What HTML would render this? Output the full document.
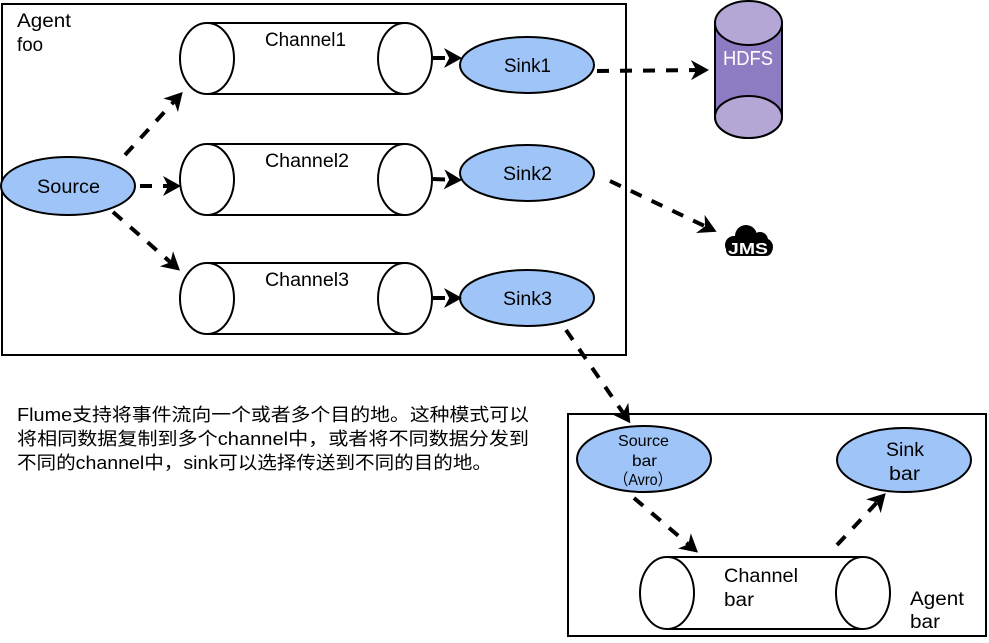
<!DOCTYPE html>
<html><head><meta charset="utf-8"><style>
body{margin:0;background:#fff;width:989px;height:638px;overflow:hidden}
svg text{font-family:"Liberation Sans","Noto Sans CJK SC",sans-serif}
</style></head><body>
<svg width="989" height="638" viewBox="0 0 989 638" xmlns="http://www.w3.org/2000/svg">
<defs>
<marker id="ah" markerWidth="5" markerHeight="5" refX="3.5" refY="2.5" orient="auto" markerUnits="strokeWidth">
<path d="M0,0 L4.5,2.5 L0,5 L1.3,2.5 Z" fill="#000"/>
</marker>
</defs>
<g fill="none" stroke="#000" stroke-width="2">
<rect x="2" y="4" width="624" height="351"/>
<rect x="568" y="414" width="418" height="222"/>
</g>
<g font-size="19">
<text x="17" y="27" textLength="54" lengthAdjust="spacingAndGlyphs">Agent</text>
<text x="17" y="51" textLength="26" lengthAdjust="spacingAndGlyphs">foo</text>
</g>
<g stroke="#000" stroke-width="2" fill="#fff">
<g><path d="M207,23 L405,23 M207,94 L405,94"/><ellipse cx="207" cy="58.5" rx="27" ry="35.5"/><ellipse cx="405" cy="58.5" rx="27" ry="35.5"/></g>
<g><path d="M207,144 L405,144 M207,215 L405,215"/><ellipse cx="207" cy="179.5" rx="27" ry="35.5"/><ellipse cx="405" cy="179.5" rx="27" ry="35.5"/></g>
<g><path d="M207,263 L405,263 M207,334 L405,334"/><ellipse cx="207" cy="298.5" rx="27" ry="35.5"/><ellipse cx="405" cy="298.5" rx="27" ry="35.5"/></g>
<g><path d="M667,557 L863,557 M667,629 L863,629"/><ellipse cx="667" cy="593" rx="27" ry="36"/><ellipse cx="863" cy="593" rx="27" ry="36"/></g>
</g>
<g font-size="19">
<text x="265" y="46" textLength="81" lengthAdjust="spacingAndGlyphs">Channel1</text>
<text x="265" y="167" textLength="84" lengthAdjust="spacingAndGlyphs">Channel2</text>
<text x="265" y="286" textLength="84" lengthAdjust="spacingAndGlyphs">Channel3</text>
<text x="724" y="582" textLength="74" lengthAdjust="spacingAndGlyphs">Channel</text>
<text x="724" y="606" textLength="30" lengthAdjust="spacingAndGlyphs">bar</text>
<text x="910" y="605" textLength="54" lengthAdjust="spacingAndGlyphs">Agent</text>
<text x="910" y="628" textLength="30" lengthAdjust="spacingAndGlyphs">bar</text>
</g>
<g fill="#9fc5f8" stroke="#000" stroke-width="2">
<ellipse cx="68" cy="186" rx="67" ry="29"/>
<ellipse cx="527" cy="65" rx="67" ry="28"/>
<ellipse cx="527" cy="173" rx="67" ry="28"/>
<ellipse cx="527" cy="298" rx="67" ry="28"/>
<ellipse cx="644" cy="459" rx="67" ry="33"/>
<ellipse cx="904" cy="460" rx="67" ry="32"/>
</g>
<g font-size="19">
<text x="37" y="193" textLength="63" lengthAdjust="spacingAndGlyphs">Source</text>
<text x="504" y="72" textLength="47" lengthAdjust="spacingAndGlyphs">Sink1</text>
<text x="503" y="180" textLength="49" lengthAdjust="spacingAndGlyphs">Sink2</text>
<text x="503" y="305" textLength="49" lengthAdjust="spacingAndGlyphs">Sink3</text>
<text x="886" y="456" textLength="38" lengthAdjust="spacingAndGlyphs">Sink</text>
<text x="889" y="480" textLength="31" lengthAdjust="spacingAndGlyphs">bar</text>
</g>
<g font-size="16">
<text x="618" y="446" textLength="51" lengthAdjust="spacingAndGlyphs">Source</text>
<text x="632" y="466" textLength="25" lengthAdjust="spacingAndGlyphs">bar</text>
<text x="614" y="485" textLength="58" lengthAdjust="spacingAndGlyphs">（Avro）</text>
</g>
<g stroke="#000" stroke-width="2">
<path d="M715,22 L715,117 A33.5,21 0 0 0 782,117 L782,22 Z" fill="#8e7cc3"/>
<ellipse cx="748.5" cy="23" rx="33.5" ry="22" fill="#b4a7d6"/>
<ellipse cx="748.5" cy="117" rx="33.5" ry="21" fill="#b4a7d6"/>
</g>
<text x="723" y="65" font-size="20" fill="#fff" textLength="50" lengthAdjust="spacingAndGlyphs">HDFS</text>
<g fill="#000">
<circle cx="746" cy="236" r="11"/>
<circle cx="760" cy="240" r="8"/>
<circle cx="734" cy="245" r="9"/>
<circle cx="764" cy="247" r="9"/>
<rect x="726" y="240" width="46" height="16" rx="6"/>
</g>
<text x="728" y="254" font-size="16" font-weight="bold" fill="#fff" textLength="40" lengthAdjust="spacingAndGlyphs">JMS</text>
<g fill="none" stroke="#000" stroke-width="4" stroke-dasharray="12,11" marker-end="url(#ah)">
<path d="M125,155 L180,95"/>
<path d="M140,186 L177,186"/>
<path d="M113,212 L177,268"/>
<path d="M433,58 L458,58"/>
<path d="M433,179 L458,180"/>
<path d="M433,298 L458,298"/>
<path d="M597,71 L705,70"/>
<path d="M610,181 L713,230"/>
<path d="M566,330 L628,420"/>
<path d="M634,498 L695,550"/>
<path d="M837,545 L883,496"/>
</g>
<g font-size="18" fill="#000">
<text x="17" y="421" textLength="512" lengthAdjust="spacingAndGlyphs">Flume支持将事件流向一个或者多个目的地。这种模式可以</text>
<text x="17" y="445" textLength="512" lengthAdjust="spacingAndGlyphs">将相同数据复制到多个channel中，或者将不同数据分发到</text>
<text x="17" y="469" textLength="475" lengthAdjust="spacingAndGlyphs">不同的channel中，sink可以选择传送到不同的目的地。</text>
</g>
</svg>
</body></html>
